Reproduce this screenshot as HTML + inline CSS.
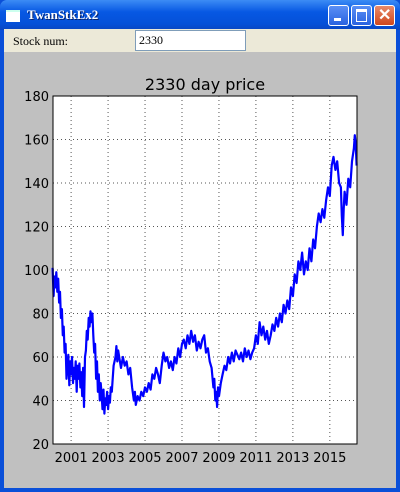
<!DOCTYPE html>
<html><head><meta charset="utf-8"><style>
body{margin:0;width:400px;height:492px;overflow:hidden;font-family:"DejaVu Sans","Liberation Sans",sans-serif}
#win{position:absolute;left:0;top:0;width:400px;height:492px;background:#0a4fd8}
#title{position:absolute;left:0;top:0;width:400px;height:30px;background:linear-gradient(#3c8cf5,#0758e3 40%,#0550d8 80%,#0a45c0);border-radius:7px 7px 0 0}
#ttext{position:absolute;left:27px;top:7px;color:#fff;font:bold 13px "Liberation Serif",serif;text-shadow:1px 1px #0a246a}
#ticon{position:absolute;left:6px;top:10px;width:14px;height:10px;background:#fff;border-top:2px solid #cfe}
.tb{position:absolute;top:5px;width:19px;height:19px;border:1px solid #fff;border-radius:3px;background:linear-gradient(#5a8ff5,#2a63e0)}
#bar{position:absolute;left:4px;top:29px;width:392px;height:23px;background:#ece9d8}
#lab{position:absolute;left:9px;top:5px;font:12px "Liberation Serif",serif}
#inp{position:absolute;left:131px;top:1px;width:111px;height:21px;background:#fff;border:1px solid #7f9db9;font:12px "Liberation Serif",serif;line-height:18px;padding-left:3px;box-sizing:border-box}
#body{position:absolute;left:4px;top:52px;width:392px;height:436px;background:#c0c0c0}
svg{position:absolute;left:0;top:0}
</style></head><body>
<div id="win">
<div id="title">
<div id="ticon"></div>
<div id="ttext">TwanStkEx2</div>
<div class="tb" style="left:328px"><div style="position:absolute;left:5px;top:12px;width:7px;height:3px;background:#fff"></div></div>
<div class="tb" style="left:351px"><div style="position:absolute;left:4px;top:3px;width:9px;height:9px;border:1px solid #fff;border-top-width:3px"></div></div>
<div class="tb" style="left:374px;background:linear-gradient(#e88a6a,#d0461c)"><div style="position:absolute;left:3px;top:-1px;color:#fff;font:bold 16px sans-serif">✕</div></div>
</div>
<div id="bar">
<div id="lab">Stock num:</div>
<div id="inp">2330</div>
</div>
<div id="body"></div>
<svg width="400" height="492" id="chart"></svg>
</div>
<script>
const years=[2000.0,2000.05,2000.1,2000.15,2000.2,2000.25,2000.3,2000.35,2000.4,2000.45,2000.5,2000.55,2000.6,2000.65,2000.7,2000.75,2000.8,2000.85,2000.9,2000.95,2001.0,2001.05,2001.1,2001.15,2001.2,2001.25,2001.3,2001.35,2001.4,2001.45,2001.5,2001.55,2001.6,2001.65,2001.7,2001.75,2001.8,2001.85,2001.9,2001.95,2002.0,2002.05,2002.1,2002.15,2002.2,2002.25,2002.3,2002.35,2002.4,2002.45,2002.5,2002.55,2002.6,2002.65,2002.7,2002.75,2002.8,2002.85,2002.9,2002.95,2003.0,2003.05,2003.1,2003.15,2003.2,2003.3,2003.4,2003.45,2003.5,2003.55,2003.6,2003.7,2003.8,2003.9,2004.0,2004.1,2004.2,2004.3,2004.4,2004.45,2004.5,2004.6,2004.7,2004.8,2004.9,2005.0,2005.1,2005.2,2005.3,2005.4,2005.5,2005.6,2005.7,2005.8,2005.9,2006.0,2006.1,2006.2,2006.3,2006.4,2006.5,2006.6,2006.7,2006.8,2006.9,2007.0,2007.1,2007.2,2007.3,2007.4,2007.5,2007.6,2007.7,2007.8,2007.9,2008.0,2008.1,2008.2,2008.3,2008.4,2008.5,2008.6,2008.7,2008.75,2008.8,2008.85,2008.9,2008.95,2009.0,2009.1,2009.2,2009.3,2009.4,2009.5,2009.6,2009.7,2009.8,2009.9,2010.0,2010.1,2010.2,2010.3,2010.4,2010.5,2010.6,2010.7,2010.8,2010.9,2011.0,2011.1,2011.2,2011.3,2011.4,2011.5,2011.6,2011.7,2011.8,2011.9,2012.0,2012.1,2012.2,2012.3,2012.4,2012.5,2012.6,2012.7,2012.8,2012.9,2013.0,2013.1,2013.2,2013.3,2013.4,2013.5,2013.6,2013.7,2013.8,2013.9,2014.0,2014.1,2014.2,2014.3,2014.4,2014.5,2014.6,2014.7,2014.8,2014.9,2015.0,2015.1,2015.2,2015.3,2015.4,2015.5,2015.6,2015.65,2015.7,2015.75,2015.8,2015.9,2016.0,2016.1,2016.2,2016.3,2016.35,2016.4,2016.45];
const prices=[101,88,97,92,99,90,96,85,90,78,82,70,74,62,66,50,56,61,47,58,52,60,48,55,50,58,44,56,50,57,46,53,42,55,37,60,63,72,68,78,74,81,76,80,70,62,66,50,58,44,52,40,48,43,36,45,34,41,38,44,36,42,39,46,44,56,60,65,58,63,60,55,60,56,58,52,55,46,40,44,38,42,40,44,42,46,44,48,45,52,50,55,52,48,56,62,58,60,55,58,54,60,57,64,60,66,68,64,70,66,72,67,70,63,67,64,68,70,62,64,58,55,46,50,40,44,37,46,42,48,52,56,54,60,57,62,58,63,61,59,62,58,64,60,63,59,62,64,70,66,76,70,74,68,72,66,70,75,72,78,74,80,76,84,80,86,82,92,88,98,94,104,100,108,98,104,100,110,104,114,110,120,126,122,128,124,132,138,134,148,152,146,150,140,138,125,116,128,136,130,142,138,150,156,162,158,148];
const yTicks=[20,40,60,80,100,120,140,160,180];
const xTicks=[2001,2003,2005,2007,2009,2011,2013,2015];
const L=53,R=357,T=96,B=444,x0=2000.02,x1=2016.47,y0=20,y1=180;
const X=v=>L+(v-x0)/(x1-x0)*(R-L), Y=v=>B-(v-y0)/(y1-y0)*(B-T);
const s=document.getElementById('chart'),NS='http://www.w3.org/2000/svg';
function mk(t,a,p){const e=document.createElementNS(NS,t);for(const k in a)e.setAttribute(k,a[k]);(p||s).appendChild(e);return e;}
let e=mk('rect',{x:L,y:T,width:R-L,height:B-T,fill:'#fff'});


yTicks.forEach(v=>{
 const g=mk('line',{x1:L,x2:R,y1:Y(v),y2:Y(v),stroke:'#555','stroke-dasharray':'1,3','stroke-width':1});
 
 
 const t=mk('text',{x:L-4,y:Y(v)+5,'text-anchor':'end','font-size':13,fill:'#000'});
 t.textContent=v;
 
 
});
xTicks.forEach(v=>{
 const g=mk('line',{x1:X(v),x2:X(v),y1:T,y2:B,stroke:'#555','stroke-dasharray':'1,3','stroke-width':1});
 
 
 const t=mk('text',{x:X(v),y:B+18,'text-anchor':'middle','font-size':13,fill:'#000'});
 t.textContent=v;
 
 
});
const d=years.map((v,i)=>(i?'L':'M')+X(v).toFixed(1)+','+Y(prices[i]).toFixed(1)).join('');
e=mk('path',{d:d,fill:'none',stroke:'#0000ff','stroke-width':2.2,'stroke-linejoin':'round'});


e=mk('rect',{x:L,y:T,width:R-L,height:B-T,fill:'none',stroke:'#000','stroke-width':1});


e=mk('text',{x:(L+R)/2,y:90,'text-anchor':'middle','font-size':16,fill:'#000'});
e.textContent='2330 day price';


</script>
</body></html>
